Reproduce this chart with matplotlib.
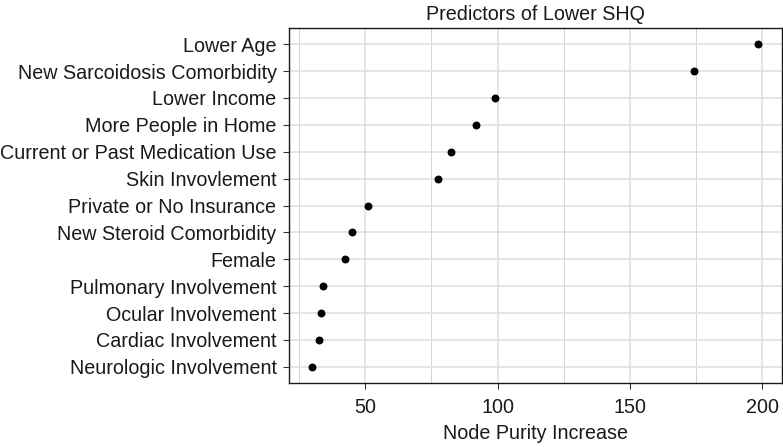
import matplotlib
matplotlib.use("Agg")
import matplotlib.pyplot as plt
from matplotlib.ticker import MultipleLocator

plt.rcParams['font.family'] = ['Liberation Sans', 'DejaVu Sans']

labels = ["Lower Age", "New Sarcoidosis Comorbidity", "Lower Income",
          "More People in Home", "Current or Past Medication Use",
          "Skin Invovlement", "Private or No Insurance",
          "New Steroid Comorbidity", "Female", "Pulmonary Involvement",
          "Ocular Involvement", "Cardiac Involvement", "Neurologic Involvement"]
values = [198.3, 174.2, 98.9, 92.0, 82.5, 77.5, 50.9, 45.0, 42.5, 34.0, 33.1, 32.5, 30.0]
xticks = [50, 100, 150, 200]

FS = 14.2
fig = plt.figure(figsize=(7.83, 4.47), dpi=100)
ax = fig.add_axes([289/783, 1-383/447, (782-289)/783, (383-28)/447])

n = len(labels)
ypos = list(range(n, 0, -1))
ax.scatter(values, ypos, s=22, color='black', zorder=3)

ax.set_xlim(21.2, 207.4)
ax.set_ylim(0.4, n + 0.6)
ax.set_yticks(ypos)
ax.set_yticklabels(labels, fontsize=FS, color='#1a1a1a')
ax.set_xticks(xticks)
ax.set_xticklabels([str(t) for t in xticks], fontsize=FS, color='#1a1a1a')
ax.xaxis.set_minor_locator(MultipleLocator(25))

ax.grid(True, which='major', axis='both', color='#dedede', linewidth=1.1, zorder=0)
ax.grid(True, which='minor', axis='x', color='#cccccc', linewidth=0.6, zorder=0)
ax.set_axisbelow(True)
ax.tick_params(axis='both', which='major', length=4, width=0.8, color='#333333', direction='out')
ax.tick_params(axis='x', which='major', pad=7)
ax.tick_params(axis='y', which='major', pad=5)
ax.tick_params(axis='x', which='minor', length=0)
for s in ax.spines.values():
    s.set_color('#1a1a1a')
    s.set_linewidth(1.0)

ax.set_title("Predictors of Lower SHQ", fontsize=FS, pad=6, color='#1a1a1a')
ax.set_xlabel("Node Purity Increase", fontsize=FS, labelpad=5, color='#1a1a1a')

fig.savefig("out.png", dpi=100)
